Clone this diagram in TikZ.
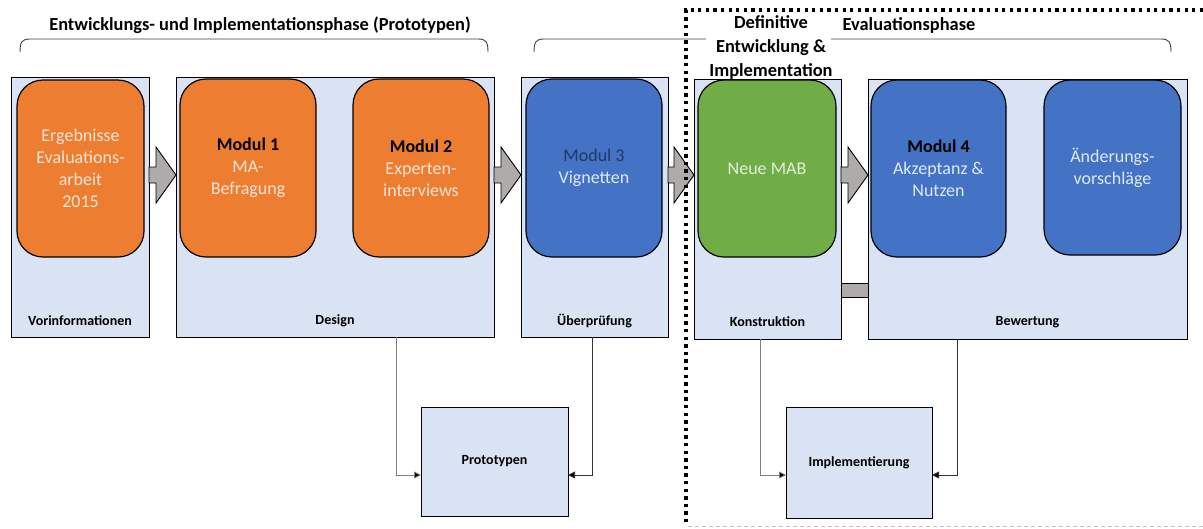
\documentclass[tikz,border=0pt]{standalone}
\usepackage{fontspec}
\setmainfont{Carlito}
\usetikzlibrary{arrows.meta,calc}

\definecolor{panelblue}{HTML}{DAE3F3}
\definecolor{orangeM}{HTML}{ED7D31}
\definecolor{blueM}{HTML}{4472C4}
\definecolor{greenM}{HTML}{70AD47}
\definecolor{arrowgray}{HTML}{AFABAB}
\definecolor{peach}{HTML}{FBE5D6}
\definecolor{paleblue}{HTML}{DEEBF7}
\definecolor{palegreen}{HTML}{E2F0D9}
\definecolor{navy}{HTML}{1F3864}
\definecolor{linegray}{HTML}{7F7F7F}
\definecolor{bracegray}{HTML}{404040}

% gray block arrow between two panels
\newcommand\flowarrow[2]{%
  \draw[barrow] let \p1=(#1.east), \p2=(#2.west) in
    (\x1,-167pt) -- (\x2-20pt,-167pt) -- (\x2-20pt,-147pt) -- (\x2,-175pt)
    -- (\x2-20pt,-203pt) -- (\x2-20pt,-183pt) -- (\x1,-183pt) -- cycle;}

\begin{document}
\begin{tikzpicture}[x=1pt,y=-1pt,
  panel/.style={draw=black, line width=0.9pt, fill=panelblue, rectangle,
    inner sep=0pt, outer sep=0pt},
  module/.style={draw=black, line width=1.2pt, rounded corners=26pt,
    inner sep=0pt, outer sep=0pt, align=center,
    font=\fontsize{18}{22}\selectfont},
  tag/.style={font=\bfseries\fontsize{14}{17}\selectfont, inner sep=0pt},
  head/.style={font=\bfseries\fontsize{18.4}{24}\selectfont, align=center,
    inner sep=0pt},
  barrow/.style={draw=black, line width=0.9pt, fill=arrowgray,
    line join=miter},
  link/.style={draw=linegray, line width=0.8pt,
    -{Triangle[length=7pt,width=7pt,fill=black]}},
  linkdark/.style={draw=black!80, line width=0.8pt,
    -{Triangle[length=7pt,width=7pt,fill=black]}},
  brace/.style={draw=bracegray, line width=0.9pt}
]
\useasboundingbox[fill=white] (0,0) rectangle (1203,528);

% phase headings and braces
\node[head] (h1) at (260,25) {Entwicklungs- und Implementationsphase (Prototypen)};
\node[head] (h2) at (771,47.5) {Definitive\\Entwicklung \&\\Implementation};
\node[head] (h3) at (909,25) {Evaluationsphase};

\draw[brace] (20,52) .. controls (20,42) and (22,39) .. (30,39) -- (478,39)
  .. controls (486,39) and (488,42) .. (488,52);
\draw[brace] (534,52) .. controls (534,42) and (536,39) .. (544,39) -- (706,39);
\draw[brace] (831,39) -- (1161,39) .. controls (1169,39) and (1171,42) .. (1171,52);

% panels
\node[panel, minimum width=138pt, minimum height=260pt] (vor) at (80,207) {};
\node[panel, minimum width=318pt, minimum height=260pt] (design) at (335,207) {};
\node[panel, minimum width=147pt, minimum height=260pt] (ueber) at (594.5,207) {};
\node[panel, minimum width=147pt, minimum height=260pt] (kon) at (767.5,209) {};
\node[panel, minimum width=319pt, minimum height=260pt] (bew) at (1027.5,209) {};

\node[tag] (tvor) at (vor.south |- 0,321) {Vorinformationen};
\node[tag] (tdesign) at (design.south |- 0,321) {Design};
\node[tag] (tueber) at (ueber.south |- 0,321) {Überprüfung};
\node[tag] (tkon) at (kon.south |- 0,322) {Konstruktion};
\node[tag] (tbew) at (bew.south |- 0,322) {Bewertung};

% modules
\node[module, fill=orangeM, text=peach, minimum width=127pt, minimum height=177pt]
  (erg) at (80.5,168.5) {Ergebnisse\\Evaluations-\\arbeit\\2015};
\node[module, fill=orangeM, text=peach, minimum width=136pt, minimum height=178pt]
  (m1) at (248,168) {\textcolor{black}{\bfseries Modul 1}\\MA-\\Befragung};
\node[module, fill=orangeM, text=peach, minimum width=136pt, minimum height=178pt]
  (m2) at (421,168) {\textcolor{black}{\bfseries Modul 2}\\Experten-\\interviews};
\node[module, fill=blueM, text=paleblue, minimum width=136pt, minimum height=178pt]
  (m3) at (594,168) {\textcolor{navy}{Modul 3}\\Vignetten};
\node[module, fill=greenM, text=palegreen, minimum width=138pt, minimum height=177pt]
  (mab) at (767,168.5) {Neue MAB};
\node[module, fill=blueM, text=paleblue, minimum width=135pt, minimum height=177pt]
  (m4) at (938.5,168.5) {\textcolor{black}{\bfseries Modul 4}\\Akzeptanz \&\\Nutzen};
\node[module, fill=blueM, text=paleblue, minimum width=137pt, minimum height=175pt]
  (aend) at (1112.5,167.5) {Änderungs-\\vorschläge};

% block arrows between panels
\flowarrow{vor}{design}
\flowarrow{design}{ueber}
\flowarrow{ueber}{kon}
\flowarrow{kon}{bew}

% link bar between Konstruktion and Bewertung
\draw[barrow] (kon.east |- 0,283) rectangle (bew.west |- 0,297);

% result boxes
\node[panel, minimum width=147pt, minimum height=109pt] (proto) at (494.5,461.5) {};
\node[tag] (tproto) at (proto.center) {Prototypen};
\node[panel, minimum width=146pt, minimum height=111pt] (impl) at (859,462.5) {};
\node[tag] (timpl) at (impl.center) {Implementierung};

% connectors
\draw[link] (design.south -| 396,0) |- (proto.west |- 0,475);
\draw[linkdark] (ueber.south -| 592,0) |- (proto.east |- 0,475);
\draw[link] (kon.south -| 760,0) |- (impl.west |- 0,475);
\draw[linkdark] (bew.south -| 957,0) |- (impl.east |- 0,475);

% boundary of the definitive phase
\draw[black!25, line width=0.8pt, dash pattern=on 4pt off 3pt] (688,526) -- (1203,526);
\draw[black, line width=3.3pt, dash pattern=on 3.3pt off 4.3pt]
  (1203,10) -- (686,10) -- (686,524);
\end{tikzpicture}
\end{document}
